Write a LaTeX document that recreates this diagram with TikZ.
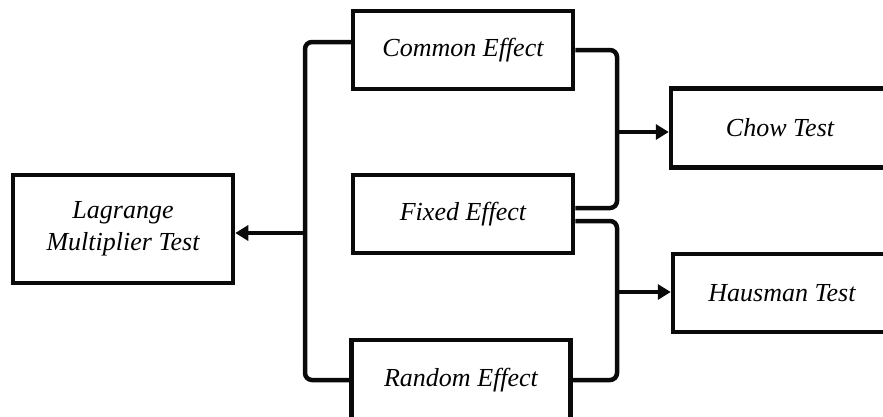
\documentclass[tikz,border=0pt]{standalone}
\usepackage{fontspec}
\setmainfont{Liberation Serif}
\usepackage{tikz}
\usetikzlibrary{arrows.meta, positioning, calc}
\definecolor{linkblack}{RGB}{10, 10, 10}

\begin{document}
\begin{tikzpicture}[
    x=1pt, y=-1pt,
    box/.style={rectangle, draw=linkblack, line width=4.5pt, fill=white, inner sep=0pt, align=center, font=\fontsize{26}{32}\selectfont\itshape},
    link/.style={draw=linkblack, line width=4.5pt, rounded corners=7pt},
    arrow/.style={-{Triangle[length=13pt, width=15pt]}, draw=linkblack, line width=4.5pt}
]
\useasboundingbox (0,0) rectangle (883,416);
\clip (0,0) rectangle (883,416);

% Estimation models
\node[box, minimum width=220pt, minimum height=78pt] (common) at (463,50) {Common Effect};
\node[box, minimum width=220pt, minimum height=78pt] (fixed) at (463,214) {Fixed Effect};
\node[box, minimum width=219pt, minimum height=80pt] (random) at (461,380) {Random Effect};

% Tests
\node[box, minimum width=220pt, minimum height=108pt] (lagrange) at (123,229) {Lagrange\\Multiplier Test};
\node[box, minimum width=218pt, minimum height=79pt] (chow) at (780,128) {Chow Test};
\node[box, minimum width=218pt, minimum height=78pt] (hausman) at (782,293) {Hausman Test};

% Bracket junctions
\coordinate (lbus) at (305,233);
\coordinate (cbus) at (617,132);
\coordinate (hbus) at (617,292);

% Common + Random -> Lagrange Multiplier
\draw[link] ([yshift=8pt]common.west) -| (lbus) |- (random.west);
\draw[arrow] (lbus) -- (lbus -| lagrange.east);

% Common + Fixed -> Chow
\draw[link] (common.east) -| (cbus) |- ([yshift=6pt]fixed.east);
\draw[arrow] (cbus) -- (cbus -| chow.west);

% Fixed + Random -> Hausman
\draw[link] ([yshift=-7pt]fixed.east) -| (hbus) |- (random.east);
\draw[arrow] (hbus) -- (hbus -| hausman.west);
\end{tikzpicture}
\end{document}
